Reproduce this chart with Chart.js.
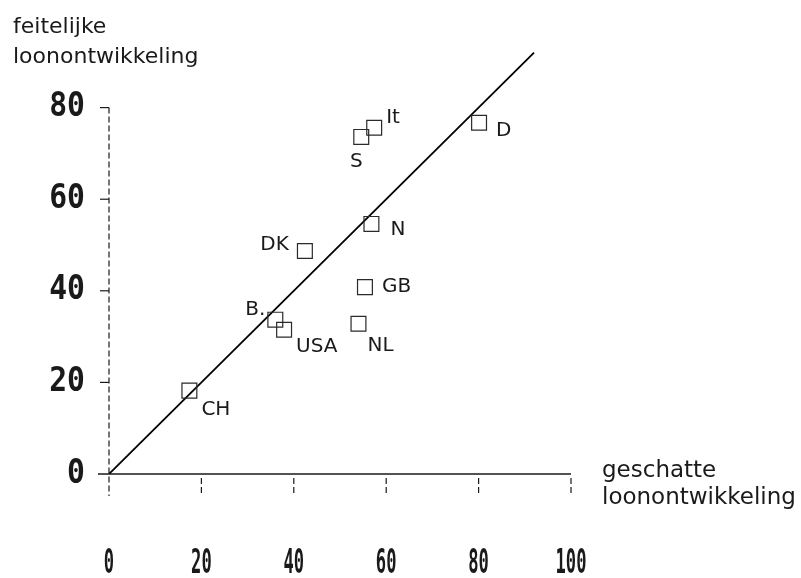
<!DOCTYPE html>
<html>
<head>
<meta charset="utf-8">
<script src="https://cdn.jsdelivr.net/npm/chart.js@4.4.0/dist/chart.umd.min.js"></script>
<style>
  html, body { margin: 0; padding: 0; background: #fff; }
  canvas { display: block; }
</style>
</head>
<body>
<canvas id="chart" width="801" height="578"></canvas>
<script>
const countries = ['CH', 'B.', 'USA', 'NL', 'GB', 'N', 'DK', 'S', 'It', 'D'];
const estimated = [17.4, 36.0, 37.9, 54.0, 55.4, 56.8, 42.4, 54.6, 57.4, 80.1];
const actual = [18.2, 33.7, 31.5, 32.8, 40.8, 54.6, 48.7, 73.6, 75.6, 76.7];
const diagonalX = [0, 92];
const diagonalY = [0, 92];
const xTicks = [0, 20, 40, 60, 80, 100];
const yTicks = [0, 20, 40, 60, 80];
const yTitle = ['feitelijke', 'loonontwikkeling'];
const xTitle = ['geschatte', 'loonontwikkeling'];

// where each country name sits next to its square: [align, dx, dy]
const labelPlacement = [
    ['left', 12, 19], ['right', -10, -10], ['left', 12, 17], ['left', 9, 22],
    ['left', 17, 0], ['left', 19, 6], ['right', -16, -6], ['center', -5, 25],
    ['left', 12, -10], ['left', 17, 8]
];

const INK = '#1a1a1a';

function condensedText(ctx, text, px, py, align, sx) {
    ctx.save();
    ctx.translate(px, py);
    ctx.scale(sx, 1);
    ctx.textAlign = align;
    ctx.textBaseline = 'middle';
    ctx.fillText(text, 0, 0);
    ctx.restore();
}

const plotterAxes = {
    id: 'plotterAxes',
    beforeDatasetsDraw(chart) {
        const { ctx, scales: { x, y } } = chart;
        const x0 = x.getPixelForValue(0);
        const y0 = y.getPixelForValue(0);
        ctx.save();
        ctx.strokeStyle = INK;
        ctx.fillStyle = INK;

        // horizontal axis, solid
        ctx.lineWidth = 1.3;
        ctx.beginPath();
        ctx.moveTo(x0 - 11, y0);
        ctx.lineTo(x.getPixelForValue(100), y0);
        ctx.stroke();

        // vertical axis, broken pen
        ctx.lineWidth = 1.2;
        ctx.setLineDash([6, 3]);
        ctx.beginPath();
        ctx.moveTo(x0, y.getPixelForValue(80));
        ctx.lineTo(x0, y0 + 22);
        ctx.stroke();

        xTicks.forEach((v) => {
            if (!v) return;
            const px = x.getPixelForValue(v);
            ctx.beginPath();
            ctx.moveTo(px, y0 + 4);
            ctx.lineTo(px, y0 + 22);
            ctx.stroke();
        });
        ctx.setLineDash([]);

        yTicks.forEach((v) => {
            if (!v) return;
            const py = y.getPixelForValue(v);
            ctx.beginPath();
            ctx.moveTo(x0 - 9, py);
            ctx.lineTo(x0, py);
            ctx.stroke();
        });

        // tick labels
        ctx.font = 'bold 33px "DejaVu Sans Mono"';
        yTicks.forEach((v) => {
            condensedText(ctx, String(v), x0 - 24, y.getPixelForValue(v), 'right', 0.9);
        });
        ctx.font = 'bold 33px "DejaVu Sans Mono"';
        xTicks.forEach((v) => {
            condensedText(ctx, String(v), x.getPixelForValue(v), y0 + 90, 'center', 0.52);
        });

        // axis titles
        ctx.textAlign = 'left';
        ctx.textBaseline = 'alphabetic';
        ctx.font = '22px "DejaVu Sans"';
        ctx.fillText(yTitle[0], 13, 33);
        ctx.fillText(yTitle[1], 13, 63);
        ctx.font = '23px "DejaVu Sans"';
        ctx.fillText(xTitle[0], 602, 477);
        ctx.fillText(xTitle[1], 602, 504);
        ctx.restore();
    },
    afterDatasetsDraw(chart) {
        const { ctx } = chart;
        const meta = chart.getDatasetMeta(0);
        ctx.save();
        ctx.fillStyle = INK;
        ctx.font = '20px "DejaVu Sans"';
        ctx.textBaseline = 'middle';
        meta.data.forEach((pt, i) => {
            const [align, dx, dy] = labelPlacement[i];
            ctx.textAlign = align;
            ctx.fillText(countries[i], pt.x + dx, pt.y + dy);
        });
        ctx.restore();
    }
};

const ctx = document.getElementById('chart').getContext('2d');

new Chart(ctx, {
    type: 'scatter',
    data: {
        datasets: [
            {
                label: 'landen',
                data: countries.map((_, i) => ({ x: estimated[i], y: actual[i] })),
                pointStyle: 'rect',
                pointRadius: 10.5,
                pointHoverRadius: 10.5,
                borderColor: '#2a2a2a',
                backgroundColor: 'rgba(0,0,0,0)',
                borderWidth: 1.2
            },
            {
                type: 'line',
                label: 'diagonaal',
                data: diagonalX.map((v, i) => ({ x: v, y: diagonalY[i] })),
                borderColor: '#000',
                borderWidth: 1.8,
                pointRadius: 0,
                fill: false
            }
        ]
    },
    options: {
        responsive: false,
        animation: false,
        layout: { padding: { top: 16, right: 230, bottom: 0, left: 0 } },
        plugins: {
            legend: { display: false },
            tooltip: { enabled: false },
            title: { display: false }
        },
        scales: {
            x: {
                type: 'linear',
                min: 0,
                max: 100,
                grid: { display: false, drawTicks: false },
                border: { display: false },
                ticks: { display: false },
                afterFit: (scale) => { scale.height = 104; }
            },
            y: {
                type: 'linear',
                min: 0,
                max: 100,
                grid: { display: false, drawTicks: false },
                border: { display: false },
                ticks: { display: false },
                afterFit: (scale) => { scale.width = 109; }
            }
        }
    },
    plugins: [plotterAxes]
});
</script>
</body>
</html>
